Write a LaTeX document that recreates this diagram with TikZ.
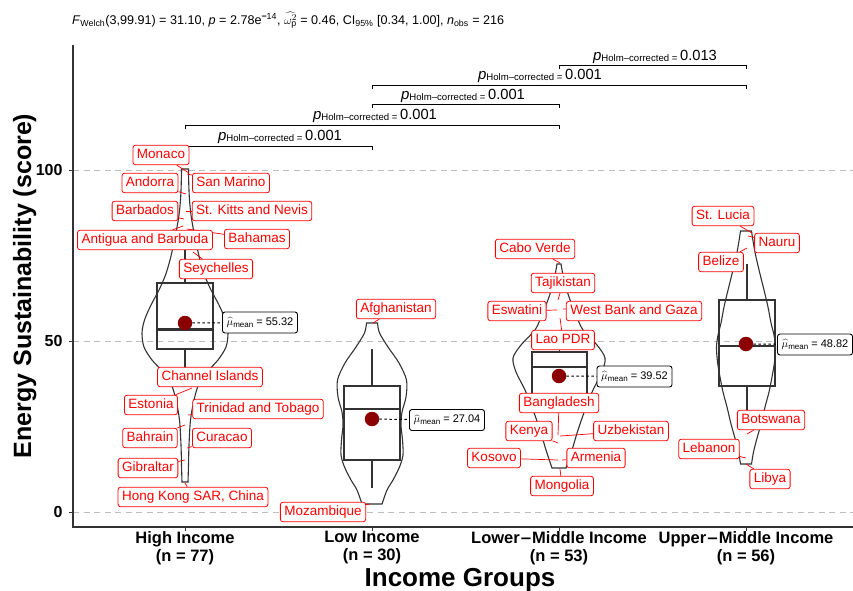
\documentclass[tikz,border=0pt]{standalone}
\usepackage{fontspec}
\setmainfont{Liberation Sans}
\pgfdeclarelayer{bg}
\pgfdeclarelayer{seglayer}
\pgfsetlayers{bg,seglayer,main}
\definecolor{meanred}{HTML}{8B0000}
\definecolor{gridgray}{HTML}{BDBDBD}
\definecolor{linegray}{HTML}{333333}
\tikzset{
  lab/.style={draw=red, fill=white, text=red, rounded corners=2.5pt, line width=0.8pt,
    font=\fontsize{13.5}{15}\selectfont, inner xsep=4pt, inner ysep=3.4pt,
    text height=9.8pt, text depth=2.9pt},
  seg/.style={draw=red, line width=0.7pt},
  mlab/.style={draw=black, fill=white, rounded corners=2.5pt, line width=0.9pt,
    font=\fontsize{11}{12}\selectfont, inner xsep=3pt, inner ysep=0pt, minimum height=21pt, minimum width=75pt},
  mpt/.style={circle, fill=meanred, minimum size=14.5pt, inner sep=0pt},
  mline/.style={draw=black, line width=1pt, dash pattern=on 2.5pt off 2.5pt},
  viol/.style={draw=linegray, line width=1.1pt},
  boxp/.style={draw=linegray, line width=1.1pt},
  medl/.style={draw=linegray, line width=2.5pt},
  gridl/.style={draw=gridgray, line width=0.9pt, dash pattern=on 6pt off 4.5pt},
  brk/.style={draw=black, line width=1pt},
  axl/.style={draw=linegray, line width=1.4pt},
  tickl/.style={font=\fontsize{16}{18}\selectfont\bfseries, anchor=east},
  grpl/.style={font=\fontsize{16.5}{18}\selectfont\bfseries, align=center},
}
\newcommand\phcor[1]{{\fontsize{15}{16}\selectfont\textit{p}}\raisebox{-1.5pt}{\fontsize{9.6}{10}\selectfont Holm--corrected = }{\fontsize{14.7}{16}\selectfont #1}}
\newcommand\mulab[1]{$\widehat{\mu}$\raisebox{-2pt}{\fontsize{8}{9}\selectfont mean} = #1}
\newcommand\ctry[6]{\node[lab] (l#1) at (#3,#4) {#2};
  \coordinate (p#1) at (#5,#6);
  \begin{pgfonlayer}{seglayer}\draw[seg] (l#1) -- (p#1);\end{pgfonlayer}}
\begin{document}
\begin{tikzpicture}[x=1pt,y=-1pt]
\useasboundingbox (0,0) rectangle (853,590);

% ---------- background: grid, violins, boxes ----------
\begin{pgfonlayer}{bg}
\fill[white] (0,0) rectangle (853,590);
\foreach \yy in {170,341,512} \draw[gridl] (73,\yy) -- (853,\yy);
% High income violin
\draw[viol] plot[smooth] coordinates {(181.5,169) (181.2,185) (180.5,200) (179,215) (176.5,230) (173.5,245) (170,260) (165.5,275) (159,290) (151,305) (144.5,320) (142,333) (144,347) (152,360) (163,372) (171.5,385) (176,400) (179.5,420) (181,445) (181.5,465) (182,482)}
  -- plot[smooth] coordinates {(188,482) (188.5,465) (189,445) (190.5,420) (194,400) (198.5,385) (207,372) (218,360) (226,347) (228,333) (225.5,320) (219,305) (211,290) (204.5,275) (200,260) (196.5,245) (193.5,230) (191,215) (189.5,200) (188.8,185) (188.5,169)} -- cycle;
% Low income violin
\draw[viol] plot[smooth] coordinates {(366.5,323) (364.5,333) (356,347) (345,363) (337.5,380) (338,397) (342,412) (343,425) (341.5,440) (341,455) (344.5,467) (351,480) (357,490) (362,504)}
  -- plot[smooth] coordinates {(382,504) (387,490) (393,480) (399.5,467) (403,455) (402.5,440) (401,425) (402,412) (406,397) (406.5,380) (399,363) (388,347) (379.5,333) (377.5,323)} -- cycle;
% Lower-middle violin
\draw[viol] plot[smooth] coordinates {(557,264) (554,280) (549,297) (542,315) (535,330) (521,345) (513,358) (516,372) (525,390) (533,410) (540,430) (546,450) (552,468)}
  -- plot[smooth] coordinates {(566,468) (572,450) (578,430) (585,410) (593,390) (602,372) (605,358) (597,345) (583,330) (576,315) (569,297) (564,280) (561,264)} -- cycle;
% Upper-middle violin
\draw[viol] plot[smooth] coordinates {(740.5,231) (738.5,244) (736,257) (732,274) (728,290) (724,307) (721,323) (718,335) (716.5,347) (717.5,362) (720,377) (723,392) (727,407) (731,424) (735.5,440) (738.5,452) (740.5,464)}
  -- plot[smooth] coordinates {(751.5,464) (753.5,452) (756.5,440) (761,424) (765,407) (769,392) (772,377) (774.5,362) (775.5,347) (774,335) (771,323) (768,307) (764,290) (760,274) (756,257) (753.5,244) (751.5,231)} -- cycle;
% boxes
\draw[boxp] (157,283) rectangle (213,349);
\draw[boxp] (185,283) -- (185,250) (185,349) -- (185,378);
\draw[medl] (157,329.5) -- (213,329.5);
\draw[boxp] (344,386) rectangle (400,460);
\draw[boxp] (372,386) -- (372,349) (372,460) -- (372,488);
\draw[medl] (344,409) -- (400,409);
\draw[boxp] (532,352) rectangle (587,402);
\draw[boxp] (559.5,352) -- (559.5,335) (559.5,402) -- (559.5,410);
\draw[medl] (532,367) -- (587,367);
\draw[boxp] (719,300) rectangle (775,386);
\draw[boxp] (747,300) -- (747,264) (747,386) -- (747,428);
\draw[medl] (719,346) -- (775,346);
\end{pgfonlayer}

% ---------- axes ----------
\draw[axl] (73,45) -- (73,527) -- (853,527);
\foreach \yy/\t in {170/100,341/50,512/0} {
  \draw[axl, line width=1pt] (69,\yy) -- (73,\yy);
  \node[tickl] at (66,\yy) {\t};
}
\foreach \xx in {185,372,559,746} \draw[axl, line width=1pt] (\xx,527) -- (\xx,531);
\node[grpl] at (185,548) {High Income\\(n = 77)};
\node[grpl] at (372,548) {Low Income\\(n = 30)};
\node[grpl] at (559,548) {Lower{\fontspec{DejaVu Sans}[Scale=0.9]\textbf{−}}Middle Income\\(n = 53)};
\node[grpl] at (746,548) {Upper{\fontspec{DejaVu Sans}[Scale=0.9]\textbf{−}}Middle Income\\(n = 56)};
\node[font=\fontsize{26}{28}\selectfont\bfseries, anchor=base] at (460,586) {Income Groups};
\node[font=\fontsize{25}{27}\selectfont\bfseries, anchor=base, rotate=90] at (31,286) {Energy Sustainability (score)};

% ---------- title ----------
\node[anchor=base west, inner sep=0pt, font=\fontsize{12.6}{14}\selectfont] at (72,24)
  {\textit{F}\textsubscript{Welch}(3,99.91) = 31.10, \textit{p} = 2.78e\textsuperscript{\textbf{−}14}, $\widehat{\omega^{2}_{\mathrm{p}}}$ = 0.46, CI\textsubscript{95\%} [0.34, 1.00], \textit{n}\textsubscript{obs} = 216};

% ---------- brackets ----------
\draw[brk] (185,150) -- (185,146) -- (372,146) -- (372,150);
\node[anchor=base, inner sep=0pt] at (280,140) {\phcor{0.001}};
\draw[brk] (185,129) -- (185,125) -- (559,125) -- (559,129);
\node[anchor=base, inner sep=0pt] at (375,119) {\phcor{0.001}};
\draw[brk] (372,108) -- (372,104) -- (559,104) -- (559,108);
\node[anchor=base, inner sep=0pt] at (463,99) {\phcor{0.001}};
\draw[brk] (372,89) -- (372,85) -- (746,85) -- (746,89);
\node[anchor=base, inner sep=0pt] at (540,79) {\phcor{0.001}};
\draw[brk] (559,69) -- (559,65) -- (746,65) -- (746,69);
\node[anchor=base, inner sep=0pt] at (655,60) {\phcor{0.013}};

% ---------- means ----------
\node[mpt] (mH) at (185,323) {};
\node[mlab] (mlH) at (260,322.5) {\mulab{55.32}};
\draw[mline] (mH) -- (mlH);
\node[mpt] (mL) at (372,419) {};
\node[mlab] (mlL) at (447,420) {\mulab{27.04}};
\draw[mline] (mL) -- (mlL);
\node[mpt] (mLM) at (559,376) {};
\node[mlab] (mlLM) at (634.5,376.5) {\mulab{39.52}};
\draw[mline] (mLM) -- (mlLM);
\node[mpt] (mUM) at (746,344) {};
\node[mlab] (mlUM) at (815,344.5) {\mulab{48.82}};
\draw[mline] (mUM) -- (mlUM);

% ---------- country labels ----------
\ctry{Monaco}{Monaco}{161}{155}{189}{173}
\ctry{SanMarino}{San Marino}{231}{183}{187}{174}
\ctry{Andorra}{Andorra}{150}{183}{186}{194}
\ctry{Barbados}{Barbados}{145}{211}{184}{219}
\ctry{StKitts}{St. Kitts and Nevis}{252}{211}{186}{211}
\ctry{Antigua}{Antigua and Barbuda}{145}{240}{183}{226}
\ctry{Bahamas}{Bahamas}{257}{239}{187}{229}
\ctry{Seychelles}{Seychelles}{216}{269}{193}{252}
\node[lab] (lChannel) at (210,377) {Channel Islands};
\ctry{Estonia}{Estonia}{151}{405}{192}{388}
\ctry{Trinidad}{Trinidad and Tobago}{258}{409}{188}{415}
\ctry{Bahrain}{Bahrain}{150}{438}{185}{425}
\ctry{Curacao}{Curacao}{222}{438}{187}{448}
\ctry{Gibraltar}{Gibraltar}{148}{468}{185}{460}
\ctry{HongKong}{Hong Kong SAR, China}{193}{497}{185}{483}
\ctry{Afghanistan}{Afghanistan}{396}{309}{373}{323}
\ctry{Mozambique}{Mozambique}{323}{512}{370}{504}
\ctry{CaboVerde}{Cabo Verde}{535}{249}{560}{263}
\ctry{Tajikistan}{Tajikistan}{563}{283}{558}{300}
\ctry{Eswatini}{Eswatini}{517}{311}{557}{310}
\ctry{WestBank}{West Bank and Gaza}{634}{311}{563}{309}
\ctry{Lao}{Lao PDR}{563}{340}{560}{318}
\ctry{Bangladesh}{Bangladesh}{559}{403}{558}{435}
\ctry{Kenya}{Kenya}{529}{431}{558}{443}
\ctry{Uzbekistan}{Uzbekistan}{631}{431}{560}{436}
\ctry{Kosovo}{Kosovo}{494}{458}{558}{460}
\ctry{Armenia}{Armenia}{596}{458}{562}{460}
\ctry{Mongolia}{Mongolia}{562}{486}{560}{469}
\ctry{StLucia}{St. Lucia}{723}{216}{752}{233}
\ctry{Nauru}{Nauru}{777}{243}{748}{236}
\ctry{Belize}{Belize}{721}{262}{747}{248}
\ctry{Botswana}{Botswana}{771}{420}{747}{434}
\ctry{Lebanon}{Lebanon}{709}{449}{746}{458}
\ctry{Libya}{Libya}{770}{479}{746}{464}
\end{tikzpicture}
\end{document}
